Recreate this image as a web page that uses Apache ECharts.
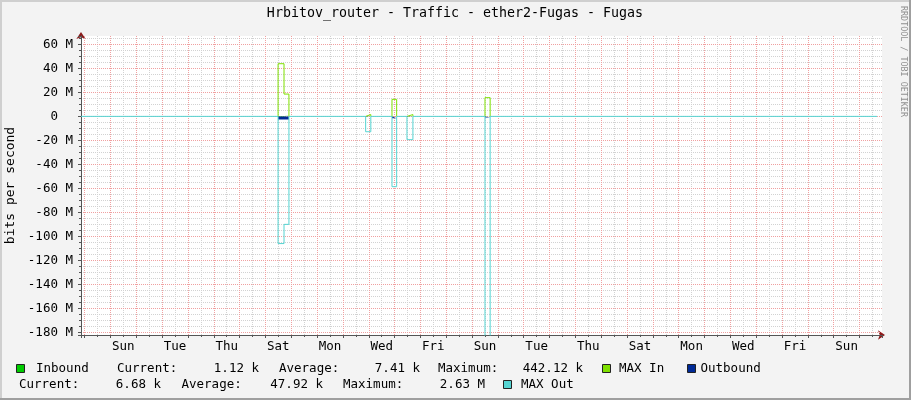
<!DOCTYPE html>
<html><head><meta charset="utf-8">
<script src="https://cdn.jsdelivr.net/npm/echarts@6/dist/echarts.min.js"></script>
<style>html,body{margin:0;padding:0;background:#f3f3f3;}#c{width:911px;height:400px;}</style>
</head><body><div id="c"></div>
<script>
// ---- data (x in days from first midnight, Saturday = day 0; values in Mbit/s) ----
const times    = [-0.14, 7.49, 7.72, 7.91, 10.88, 11.08, 11.90, 12.08, 12.48, 12.71, 15.50, 15.70, 30.68];
const inbound  = [0, 0.30, 0.44, 0, 0.05, 0, 0.20, 0, 0.05, 0, 0.20, 0, 0];
const maxIn    = [0, 43.9, 18.6, 0, 1.5, 0, 14.2, 0, 1.5, 0, 15.6, 0, 0];
const outbound = [0, -2.6, -2.6, 0, -0.3, 0, -1.6, 0, -0.3, 0, -1.0, 0, 0];
const maxOut   = [0, -106, -90, 0, -12.8, 0, -58.6, 0, -19.4, 0, -200, 0, 0];
const dayLabels = ['Sun','Tue','Thu','Sat','Mon','Wed','Fri','Sun','Tue','Thu','Sat','Mon','Wed','Fri','Sun'];
const legendLine1 = ['Inbound', 'Current:', '1.12 k', 'Average:', '7.41 k', 'Maximum:', '442.12 k'];
const legendLine2 = ['Current:', '6.68 k', 'Average:', '47.92 k', 'Maximum:', '2.63 M'];
const titleText = 'Hrbitov_router - Traffic - ether2-Fugas - Fugas';

const XMIN = -0.14, XMAX = 30.87, YMIN = -182.2, YMAX = 67;
const FONT = 'DejaVu Sans Mono';
const lineColor = '#555555', arrowColor = '#8b1a1a';
const colIn = '#00CC00', colMaxIn = '#7FE000', colOut = '#002A97', colMaxOut = '#55D4D2';

// each value holds from its time until the next time (rrdtool-style steps)
function stepPts(vals){
  const out = [];
  for (let i = 0; i < times.length; i++) {
    out.push([times[i], vals[i]]);
    if (i < times.length - 1) out.push([times[i+1], vals[i]]);
  }
  return out;
}
// only the non-zero pulses, separated by gaps (for filled areas)
function pulsePts(vals){
  const out = [];
  for (let i = 0; i < times.length - 1; i++) {
    if (vals[i] !== 0) {
      out.push([times[i], vals[i]], [times[i+1], vals[i]]);
      if (vals[i+1] === 0) out.push([times[i+1], null]);
    }
  }
  return out;
}
// outline of the non-zero pulses, each starting and ending on the zero line
function pulseOutline(vals){
  const out = [];
  for (let i = 0; i < times.length - 1; i++) {
    if (vals[i] !== 0) {
      if (i === 0 || vals[i-1] === 0) out.push([times[i], 0]);
      out.push([times[i], vals[i]], [times[i+1], vals[i]]);
      if (vals[i+1] === 0) out.push([times[i+1], 0], [times[i+1], null]);
    }
  }
  return out;
}
function dayFmt(v){
  const k = (v - 1.5) / 2;
  const r = Math.round(k);
  if (Math.abs(k - r) < 1e-6 && r >= 0 && r < dayLabels.length) return dayLabels[r];
  return '';
}
function yFmt(v){
  if (Math.abs(v - Math.round(v/20)*20) > 1e-6) return '';
  return v === 0 ? '0  ' : (v + ' M');
}
const minorGrid = {show:true, showMinLine:false, showMaxLine:false, lineStyle:{color:'#d2d2d2', type:[1,1], width:1}};
const majorGrid = {show:true, showMinLine:false, showMaxLine:false, lineStyle:{color:'#f0a0a0', type:[1,1], width:1}};

const chart = echarts.init(document.getElementById('c'), null, {renderer:'canvas'});

const graphics = [
  {type:'rect', shape:{x:0,y:0,width:911,height:2}, style:{fill:'#cfcfcf'}, silent:true},
  {type:'rect', shape:{x:0,y:0,width:2,height:400}, style:{fill:'#cfcfcf'}, silent:true},
  {type:'rect', shape:{x:909,y:0,width:2,height:400}, style:{fill:'#9f9f9f'}, silent:true},
  {type:'rect', shape:{x:0,y:398,width:911,height:2}, style:{fill:'#9f9f9f'}, silent:true},
  {type:'text', x:455, y:14, style:{text:titleText, font:'13.3px "'+FONT+'"', fill:'#000', align:'center', verticalAlign:'middle'}},
  {type:'text', x:903, y:6, rotation:-Math.PI/2, style:{text:'RRDTOOL / TOBI OETIKER', font:'8.4px "'+FONT+'"', fill:'#8f8f8f', align:'left', verticalAlign:'middle'}}
];
function box(x, y, c){ graphics.push({type:'rect', shape:{x:x+0.5,y:y+0.5,width:8,height:8}, style:{fill:c, stroke:'#222', lineWidth:1}}); }
function txt(s, x, y, align){ graphics.push({type:'text', x:x, y:y, style:{text:s, font:'12.5px "'+FONT+'"', fill:'#000', align:align||'left', verticalAlign:'middle'}}); }
const L1 = 368.5, L2 = 384.5;
box(16, 364, colIn);
txt(legendLine1[0], 36, L1);
txt(legendLine1[1], 117, L1);
txt(legendLine1[2], 259, L1, 'right');
txt(legendLine1[3], 279, L1);
txt(legendLine1[4], 420, L1, 'right');
txt(legendLine1[5], 438, L1);
txt(legendLine1[6], 583, L1, 'right');
box(602, 364, colMaxIn);
txt('MAX In', 619, L1);
box(687, 364, colOut);
txt('Outbound', 700.5, L1);
txt(legendLine2[0], 19, L2);
txt(legendLine2[1], 161, L2, 'right');
txt(legendLine2[2], 181.5, L2);
txt(legendLine2[3], 323, L2, 'right');
txt(legendLine2[4], 343, L2);
txt(legendLine2[5], 485, L2, 'right');
box(503, 380, colMaxOut);
txt('MAX Out', 521, L2);

const option = {
  animation:false,
  backgroundColor:'#f3f3f3',
  grid:{left:81, right:29, top:36, bottom:65, containLabel:false, outerBoundsMode:'none',
        show:true, backgroundColor:'#ffffff', borderWidth:0, z:-1},
  xAxis:[
    {type:'value', position:'bottom', min:XMIN, max:XMAX, minInterval:0.5, maxInterval:0.5, z:0,
     axisLine:{show:true, onZero:false, symbol:['none','arrow'], symbolSize:[7,7], symbolOffset:[0,3], lineStyle:{color:arrowColor}},
     axisTick:{show:true, length:2, lineStyle:{color:lineColor}},
     axisLabel:{show:true, margin:5, formatter:dayFmt, fontFamily:FONT, fontSize:12.5, color:'#000'},
     splitLine:minorGrid},
    {type:'value', position:'bottom', min:XMIN, max:XMAX, minInterval:1, maxInterval:1, z:1,
     axisLine:{show:true, onZero:false, lineStyle:{color:lineColor}},
     axisTick:{show:true, length:3, lineStyle:{color:lineColor}},
     axisLabel:{show:false},
     splitLine:majorGrid}
  ],
  yAxis:[
    {type:'value', position:'left', min:YMIN, max:YMAX, minInterval:5, maxInterval:5, z:0,
     axisLine:{show:true, onZero:false, symbol:['none','arrow'], symbolSize:[7,7], symbolOffset:[0,4], lineStyle:{color:arrowColor}},
     axisTick:{show:true, length:2, lineStyle:{color:lineColor}},
     axisLabel:{show:false},
     splitLine:minorGrid},
    {type:'value', position:'left', min:YMIN, max:YMAX, minInterval:20, maxInterval:20, z:1,
     axisLine:{show:true, onZero:false, lineStyle:{color:lineColor}},
     axisTick:{show:true, length:3, lineStyle:{color:lineColor}},
     axisLabel:{show:true, margin:8, formatter:yFmt, fontFamily:FONT, fontSize:12.5, color:'#000'},
     splitLine:majorGrid,
     name:'bits per second', nameLocation:'middle', nameRotate:90, nameGap:62,
     nameTextStyle:{fontFamily:FONT, fontSize:13, color:'#000'}}
  ],
  series:[
    {name:'Inbound', type:'line', symbol:'none', data:pulsePts(inbound), z:3, connectNulls:false,
     lineStyle:{width:0, opacity:0}, areaStyle:{color:colIn, opacity:1}},
    {name:'MAX In', type:'line', symbol:'none', data:pulseOutline(maxIn), z:4, connectNulls:false,
     lineStyle:{width:1, color:colMaxIn}},
    {name:'Outbound', type:'line', symbol:'none', data:pulsePts(outbound), z:5, connectNulls:false,
     lineStyle:{width:0, opacity:0}, areaStyle:{color:colOut, opacity:1}},
    {name:'MAX Out', type:'line', symbol:'none', data:stepPts(maxOut), z:6,
     lineStyle:{width:1, color:colMaxOut}}
  ],
  graphic:graphics
};
chart.setOption(option);
</script></body></html>
